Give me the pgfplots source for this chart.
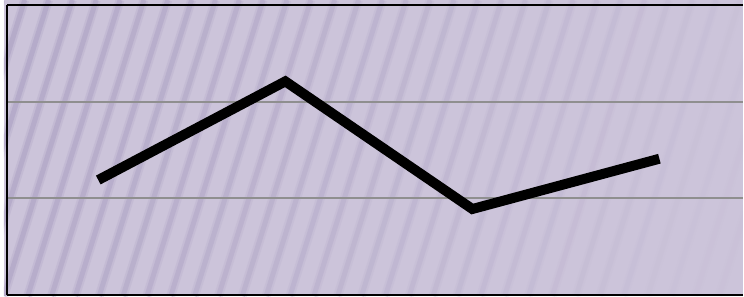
\documentclass[border=0pt]{standalone}
\usepackage{pgfplots}
\pgfplotsset{compat=1.18}
\definecolor{bg}{HTML}{CCC4DA}
\definecolor{stripe}{HTML}{ADA2C4}
\definecolor{gridc}{HTML}{8F8F8F}
\begin{document}
\begin{tikzpicture}[x=1pt,y=1pt]
\fill[bg] (0,0) rectangle (744,298);
\begin{scope}
\clip (0,0) rectangle (744,298);
\foreach \i in {-5,...,30} {
  \pgfmathsetmacro{\xb}{\i*24}
  \pgfmathsetmacro{\op}{max(0.03,0.55-0.55*\xb/720)}
  \draw[stripe, line width=9, opacity=\op*0.5] (\xb,0) -- (\xb+93,298);
  \draw[stripe, line width=5, opacity=\op] (\xb,0) -- (\xb+93,298);
}
\end{scope}
\begin{axis}[at={(3pt,1pt)}, anchor=south west, scale only axis,
  width=741pt, height=292pt,
  xmin=-0.489, xmax=3.447, ymin=0, ymax=3,
  xtick=\empty, ytick={1,2}, yticklabels={},
  ymajorgrids, grid style={gridc, line width=2pt},
  axis x line=box, axis y line=left,
  axis line style={-, black, line width=2pt}, major tick length=0pt]
\addplot[black, line width=10pt, mark=none] coordinates {(0,1.19) (1,2.21) (2,0.89) (3,1.41)};
\end{axis}
\end{tikzpicture}
\end{document}
